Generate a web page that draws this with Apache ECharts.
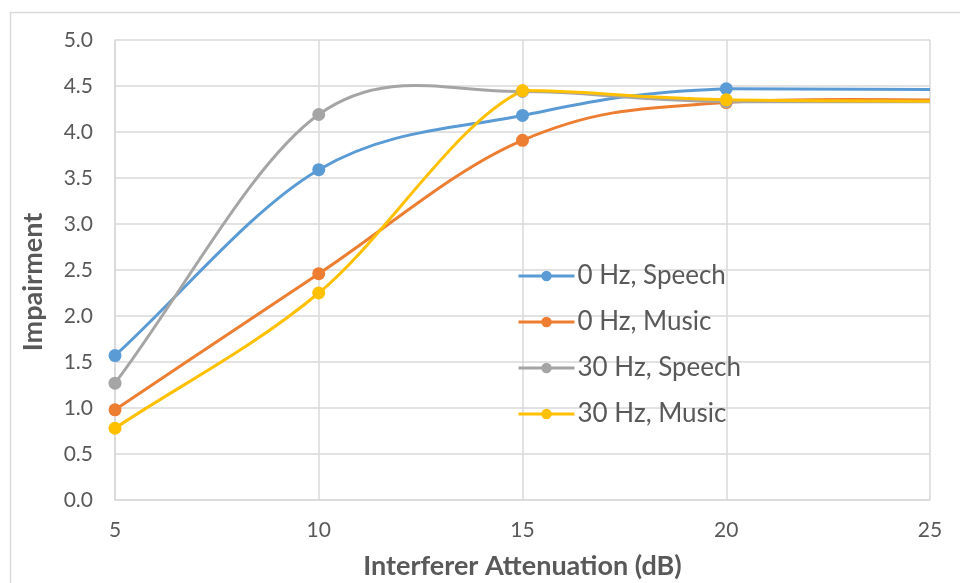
<!DOCTYPE html>
<html>
<head>
<meta charset="utf-8">
<script src="https://cdn.jsdelivr.net/npm/echarts@6/dist/echarts.min.js"></script>
<style>
  html, body { margin: 0; padding: 0; background: #fff; }
  #chart { width: 960px; height: 583px; }
</style>
</head>
<body>
<div id="chart"></div>
<script>
// Interferer attenuation (dB) at which impairment was rated
const attenuation = [5, 10, 15, 20, 30];

// Mean impairment ratings per condition
const speech0Hz = [1.57, 3.59, 4.18, 4.47, 4.45];
const music0Hz = [0.98, 2.46, 3.91, 4.32, 4.33];
const speech30Hz = [1.27, 4.19, 4.44, 4.33, 4.33];
const music30Hz = [0.78, 2.25, 4.45, 4.35, 4.33];

const seriesNames = ['0 Hz, Speech', '0 Hz, Music', '30 Hz, Speech', '30 Hz, Music'];
const seriesValues = [speech0Hz, music0Hz, speech30Hz, music30Hz];
const seriesColors = ['#5B9BD5', '#ED7D31', '#A5A5A5', '#FFC000'];

const xTicks = [5, 10, 15, 20, 25];

const FONT = 'Lato, "Open Sans", sans-serif';
const TEXT = '#595959';
const GRID_LINE = '#d9d9d9';

// Smoothed curve through the points: cardinal spline (tension 1/6 per side),
// except that a segment leaving a turning point starts out level.
// Points are converted to pixels with the grid's own scales and clipped to the plot.
function curveRenderer(values, color) {
  return function (params, api) {
    if (params.dataIndex !== 0) return null;
    const pts = attenuation.map((x, j) => api.coord([x, values[j]]));
    const n = pts.length;
    const isTurn = i => {
      if (i <= 0 || i >= n - 1) return false;
      const a = values[i] - values[i - 1];
      const b = values[i + 1] - values[i];
      return a * b <= 0;
    };
    const children = [];
    for (let i = 0; i < n - 1; i++) {
      const p0 = pts[Math.max(i - 1, 0)];
      const p1 = pts[i];
      const p2 = pts[i + 1];
      const p3 = pts[Math.min(i + 2, n - 1)];
      const f0 = i === 0 ? 1 / 3 : 1 / 6;
      const f3 = i + 2 > n - 1 ? 1 / 3 : 1 / 6;
      const cpx1 = p1[0] + (p2[0] - p0[0]) * f0;
      let cpy1 = p1[1] + (p2[1] - p0[1]) * f0;
      if (isTurn(i)) cpy1 = p1[1];
      const cpx2 = p2[0] - (p3[0] - p1[0]) * f3;
      const cpy2 = p2[1] - (p3[1] - p1[1]) * f3;
      children.push({
        type: 'bezierCurve',
        shape: {
          x1: p1[0], y1: p1[1],
          cpx1: cpx1, cpy1: cpy1,
          cpx2: cpx2, cpy2: cpy2,
          x2: p2[0], y2: p2[1]
        },
        style: { stroke: color, lineWidth: 3, fill: null, lineCap: 'round' }
      });
    }
    const cs = params.coordSys;
    return {
      type: 'group',
      children: children,
      clipPath: { type: 'rect', shape: { x: cs.x, y: cs.y, width: cs.width, height: cs.height } }
    };
  };
}

const chart = echarts.init(document.getElementById('chart'), null, { renderer: 'canvas' });

const curveSeries = seriesValues.map((values, i) => ({
  type: 'custom',
  silent: true,
  z: 1,
  renderItem: curveRenderer(values, seriesColors[i]),
  encode: { x: 0, y: 1 },
  data: attenuation.map((x, j) => [x, values[j]])
}));

const markerSeries = seriesNames.map((name, i) => ({
  name: name,
  type: 'line',
  z: 2,
  clip: true,
  symbol: 'circle',
  symbolSize: 13,
  color: seriesColors[i],
  lineStyle: { width: 3, color: seriesColors[i], opacity: 0 },
  itemStyle: { color: seriesColors[i] },
  data: attenuation.map((x, j) => [x, seriesValues[i][j]])
}));

chart.setOption({
  backgroundColor: '#ffffff',
  animation: false,
  graphic: [{
    type: 'rect',
    shape: { x: 10.5, y: 12.5, width: 1000, height: 1000 },
    style: { fill: 'none', stroke: '#d9d9d9', lineWidth: 1.5 },
    silent: true
  }],
  grid: { left: 115, right: 30, top: 40, bottom: 83, outerBoundsMode: 'none', containLabel: false },
  xAxis: {
    type: 'value',
    min: xTicks[0],
    max: xTicks[xTicks.length - 1],
    interval: 5,
    name: 'Interferer Attenuation (dB)',
    nameLocation: 'middle',
    nameGap: 53,
    nameTextStyle: { fontFamily: FONT, fontSize: 27, fontWeight: 'bold', color: TEXT },
    axisLine: { show: true, lineStyle: { color: GRID_LINE, width: 1.5 } },
    axisTick: { show: false },
    axisLabel: { fontFamily: FONT, fontSize: 21, color: TEXT, margin: 20 },
    splitLine: { show: true, lineStyle: { color: GRID_LINE, width: 1.5 } }
  },
  yAxis: {
    type: 'value',
    min: 0,
    max: 5,
    interval: 0.5,
    name: 'Impairment',
    nameLocation: 'middle',
    nameRotate: 90,
    nameGap: 68,
    nameTextStyle: {
      fontFamily: FONT, fontSize: 27, fontWeight: 'bold', color: TEXT,
      padding: [0, 24, 0, 0]
    },
    axisLine: { show: true, lineStyle: { color: GRID_LINE, width: 1.5 } },
    axisTick: { show: false },
    axisLabel: {
      fontFamily: FONT, fontSize: 21, color: TEXT, margin: 22,
      formatter: v => v.toFixed(1)
    },
    splitLine: { show: true, lineStyle: { color: GRID_LINE, width: 1.5 } }
  },
  legend: {
    orient: 'vertical',
    left: 517,
    top: 263,
    padding: 0,
    itemWidth: 56,
    itemHeight: 13,
    itemGap: 20,
    lineStyle: { width: 3, opacity: 1 },
    textStyle: { fontFamily: FONT, fontSize: 26, lineHeight: 26, color: TEXT, padding: [0, 0, 0, -2] },
    data: seriesNames
  },
  series: curveSeries.concat(markerSeries)
});
</script>
</body>
</html>
